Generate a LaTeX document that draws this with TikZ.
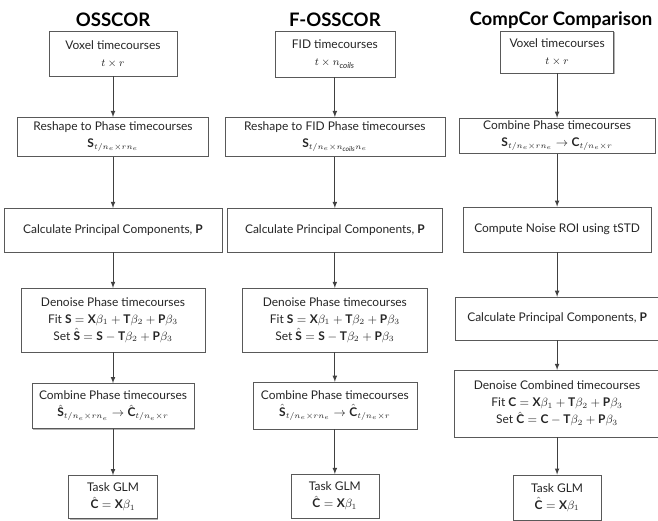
\documentclass[tikz,border=0pt]{standalone}
\usepackage{amsmath}
\usepackage{amssymb}
\usepackage{fontspec}
\setmainfont{Lato}
\usetikzlibrary{shadows}

\begin{document}
\begin{tikzpicture}[
		scale=1,
		box/.style={rectangle, draw=black!65, fill=white, align=center, inner sep=2pt,
			text=black!85, font=\fontsize{9}{12.8}\selectfont,
			drop shadow={shadow xshift=0.7pt, shadow yshift=-0.9pt, fill=black!30, opacity=1}},
		heading/.style={font=\bfseries\fontsize{14}{16}\selectfont},
		flow/.style={->, >=latex, draw=black!75, line width=0.6pt}
	]
  \useasboundingbox (0cm, 0cm) rectangle (17.41cm, -13.76cm);

  % OSSCOR
  \node (osscor) [heading] at (2.99cm, -0.53cm) {OSSCOR};
  \node (voxel_o) [box, minimum width=3.39cm, minimum height=1.19cm] at (2.99cm, -1.42cm)
    {Voxel timecourses\\ {\footnotesize $t \times r$}};
  \node (reshape_o) [box, minimum width=5.05cm, minimum height=1.03cm] at (2.99cm, -3.62cm)
    {Reshape to Phase timecourses\\ $\textbf{S}_{t/n_e \times r n_e}$};
  \node (pca_o) [box, minimum width=5.77cm, minimum height=1.16cm] at (2.99cm, -6.09cm)
    {Calculate Principal Components, \textbf{P}};
  \node (denoise_o) [box, minimum width=4.87cm, minimum height=1.69cm] at (2.99cm, -8.47cm)
    {Denoise Phase timecourses\\
     Fit $\textbf{S} = \textbf{X}\beta_1 + \textbf{T}\beta_2 + \textbf{P}\beta_3$\\
     Set $\hat{\textbf{S}} = \textbf{S} - \textbf{T}\beta_2 + \textbf{P}\beta_3$};
  \node (combine_o) [box, minimum width=4.29cm, minimum height=1.19cm] at (2.99cm, -10.74cm)
    {Combine Phase timecourses\\
     $\hat{\textbf{S}}_{t/n_e \times r n_e} \rightarrow \hat{\textbf{C}}_{t/n_e \times r}$};
  \node (glm_o) [box, minimum width=2.35cm, minimum height=1.14cm] at (2.99cm, -13.15cm)
    {Task GLM\\ $\hat{\textbf{C}} = \textbf{X}\beta_1$};

  % F-OSSCOR
  \node (f_osscor) [heading] at (8.86cm, -0.53cm) {F-OSSCOR};
  \node (fid_f) [box, minimum width=3.18cm, minimum height=1.22cm] at (8.86cm, -1.43cm)
    {FID timecourses\\ {\footnotesize $t \times n_{\mathit{coils}}$}};
  \node (reshape_f) [box, minimum width=5.82cm, minimum height=1.03cm] at (8.86cm, -3.62cm)
    {Reshape to FID Phase timecourses\\ $\textbf{S}_{t/n_e \times n_{\mathit{coils}} n_e}$};
  \node (pca_f) [box, minimum width=5.69cm, minimum height=1.16cm] at (8.86cm, -6.09cm)
    {Calculate Principal Components, \textbf{P}};
  \node (denoise_f) [box, minimum width=4.89cm, minimum height=1.69cm] at (8.86cm, -8.47cm)
    {Denoise Phase timecourses\\
     Fit $\textbf{S} = \textbf{X}\beta_1 + \textbf{T}\beta_2 + \textbf{P}\beta_3$\\
     Set $\hat{\textbf{S}} = \textbf{S} - \textbf{T}\beta_2 + \textbf{P}\beta_3$};
  \node (combine_f) [box, minimum width=4.34cm, minimum height=1.24cm] at (8.86cm, -10.73cm)
    {Combine Phase timecourses\\
     $\hat{\textbf{S}}_{t/n_e \times r n_e} \rightarrow \hat{\textbf{C}}_{t/n_e \times r}$};
  \node (glm_f) [box, minimum width=2.33cm, minimum height=1.16cm] at (8.86cm, -13.13cm)
    {Task GLM\\ $\hat{\textbf{C}} = \textbf{X}\beta_1$};

  % CompCor
  \node (compcor) [heading] at (14.84cm, -0.53cm) {CompCor Comparison};
  \node (voxel_c) [box, minimum width=2.99cm, minimum height=1.11cm] at (14.74cm, -1.38cm)
    {Voxel timecourses\\ {\footnotesize $t \times r$}};
  \node (combine_c) [box, minimum width=5.19cm, minimum height=0.93cm] at (14.74cm, -3.59cm)
    {Combine Phase timecourses\\
     $\textbf{S}_{t/n_e \times r n_e} \rightarrow \textbf{C}_{t/n_e \times r}$};
  \node (noise_c) [box, minimum width=4.97cm, minimum height=1.19cm] at (14.74cm, -6.07cm)
    {Compute Noise ROI using tSTD};
  \node (pca_c) [box, minimum width=5.37cm, minimum height=1.14cm] at (14.74cm, -8.43cm)
    {Calculate Principal Components, \textbf{P}};
  \node (denoise_c) [box, minimum width=5.45cm, minimum height=1.77cm] at (14.74cm, -10.68cm)
    {Denoise Combined timecourses\\
     Fit $\textbf{C} = \textbf{X}\beta_1 + \textbf{T}\beta_2 + \textbf{P}\beta_3$\\
     Set $\hat{\textbf{C}} = \textbf{C} - \textbf{T}\beta_2 + \textbf{P}\beta_3$};
  \node (glm_c) [box, minimum width=2.33cm, minimum height=1.19cm] at (14.74cm, -13.16cm)
    {Task GLM\\ $\hat{\textbf{C}} = \textbf{X}\beta_1$};

  \foreach \a/\b in {voxel_o/reshape_o, reshape_o/pca_o, pca_o/denoise_o, denoise_o/combine_o, combine_o/glm_o,
                     fid_f/reshape_f, reshape_f/pca_f, pca_f/denoise_f, denoise_f/combine_f, combine_f/glm_f,
                     voxel_c/combine_c, combine_c/noise_c, noise_c/pca_c, pca_c/denoise_c, denoise_c/glm_c}
    \draw [flow] (\a) -- (\b);
\end{tikzpicture}
\end{document}
